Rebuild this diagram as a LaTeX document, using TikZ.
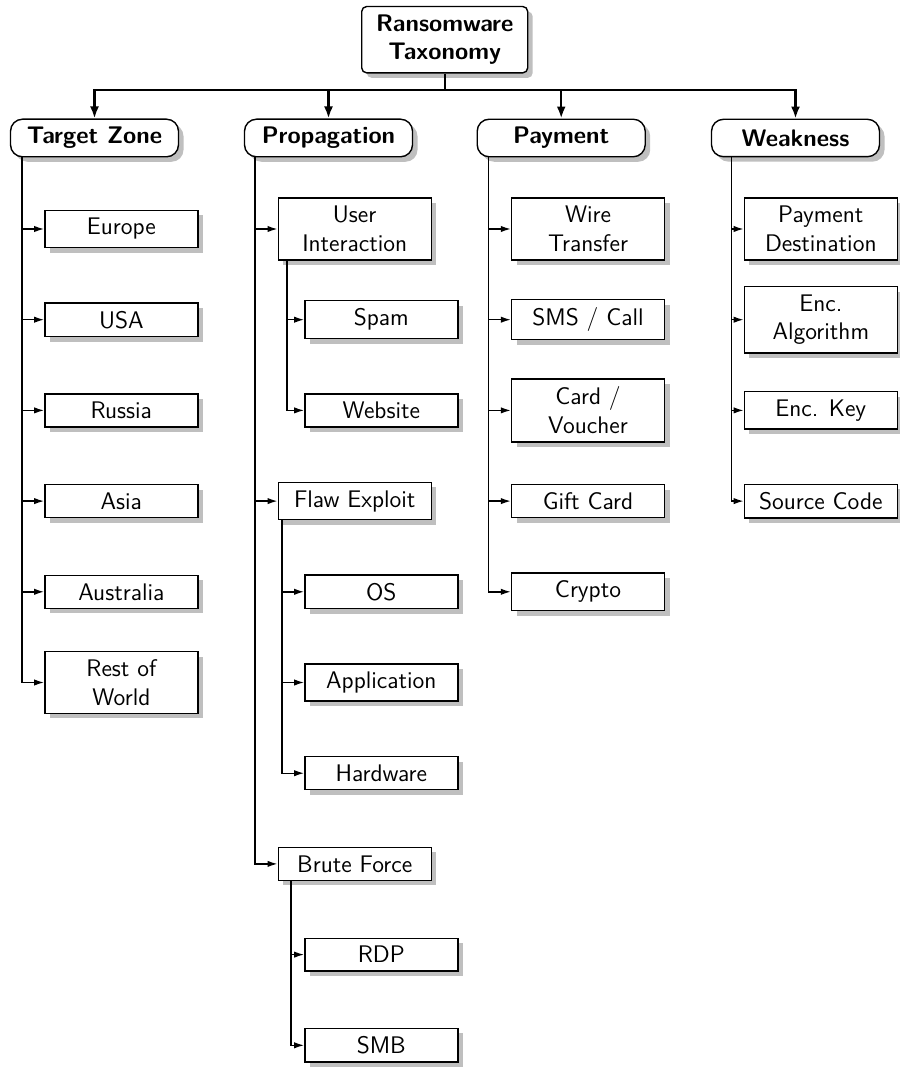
\documentclass[tikz,border=0pt]{standalone}
\usepackage{fontspec}
\usetikzlibrary{shadows,arrows.meta,calc}
\begin{document}
\begin{tikzpicture}[x=0.5pt,y=-0.5pt,
  shad/.style={drop shadow={shadow xshift=2.5pt,shadow yshift=-2.5pt,fill=black!25,opacity=1}},
  rootbox/.style={draw,line width=0.7pt,fill=white,rounded corners=2.5pt,shad,align=center,
    font=\fontsize{12}{14.4}\selectfont\sffamily\bfseries,minimum width=83pt,minimum height=33pt,inner sep=4pt},
  catbox/.style={draw,line width=0.7pt,fill=white,rounded corners=6pt,shad,
    font=\fontsize{12}{14.4}\selectfont\sffamily\bfseries,minimum width=84pt,minimum height=18.7pt,inner sep=4pt},
  leafbox/.style={draw,line width=0.7pt,fill=white,shad,align=center,
    font=\fontsize{12}{14.4}\selectfont\sffamily,minimum width=76.5pt,inner sep=4pt},
  toplink/.style={line width=1.2pt},
  toparr/.style={line width=1.2pt,-{Latex[length=6pt,width=4.5pt]}},
  leafarr/.style={line width=0.7pt,-{Latex[length=5pt,width=3.2pt]}}
]
\useasboundingbox (0,0) rectangle (899,1068);
% root and categories
\node[rootbox] (root) at (444.7,39.7) {Ransomware\\Taxonomy};
\node[catbox] (tz) at (94.5,138) {Target Zone};
\node[catbox] (prop) at (328.5,138) {Propagation};
\node[catbox] (pay) at (561.2,138) {Payment};
\node[catbox] (weak) at (795.5,138) {Weakness};
\coordinate (bus) at ([yshift=-8.3pt]root.south);
\draw[toplink] (root.south) -- (bus);
\foreach \c in {tz,prop,pay,weak} \draw[toparr] (bus) -| (\c.north);
% Target Zone
\node[leafbox] (europe) at (121.3,229) {Europe};
\node[leafbox] (usa) at (121.3,319.7) {USA};
\node[leafbox] (russia) at (121.3,410.4) {Russia};
\node[leafbox] (asia) at (121.3,501.1) {Asia};
\node[leafbox] (australia) at (121.3,591.8) {Australia};
\node[leafbox] (rest) at (121.3,682.5) {Rest of\\World};
\coordinate (tzt) at ([xshift=6.1pt]tz.south west);
\foreach \c in {europe,usa,russia,asia,australia,rest} \draw[leafarr] (tzt) |- (\c.west);
% Propagation
\node[leafbox] (ui) at (354.7,229) {User\\Interaction};
\node[leafbox] (spam) at (381.3,319.7) {Spam};
\node[leafbox] (web) at (381.3,410.4) {Website};
\node[leafbox] (flaw) at (354.7,501.1) {Flaw Exploit};
\node[leafbox] (os) at (381.3,591.8) {OS};
\node[leafbox] (app) at (381.3,682.5) {Application};
\node[leafbox] (hw) at (381.3,773.2) {Hardware};
\node[leafbox] (brute) at (354.7,863.9) {Brute Force};
\node[leafbox] (rdp) at (381.3,954.6) {RDP};
\node[leafbox] (smb) at (381.3,1045.3) {SMB};
\coordinate (propt) at ([xshift=5.6pt]prop.south west);
\foreach \c in {ui,flaw,brute} \draw[leafarr] (propt) |- (\c.west);
\coordinate (uit) at ([xshift=4.75pt]ui.south west);
\foreach \c in {spam,web} \draw[leafarr] (uit) |- (\c.west);
\coordinate (flawt) at ([xshift=2.25pt]flaw.south west);
\foreach \c in {os,app,hw} \draw[leafarr] (flawt) |- (\c.west);
\coordinate (brutet) at ([xshift=6.75pt]brute.south west);
\foreach \c in {rdp,smb} \draw[leafarr] (brutet) |- (\c.west);
% Payment
\node[leafbox] (wire) at (588,229) {Wire\\Transfer};
\node[leafbox] (sms) at (588,319.7) {SMS / Call};
\node[leafbox] (card) at (588,410.4) {Card /\\Voucher};
\node[leafbox] (gift) at (588,501.1) {Gift Card};
\node[leafbox] (crypto) at (588,591.8) {Crypto};
\coordinate (payt) at ([xshift=6.05pt]pay.south west);
\foreach \c in {wire,sms,card,gift,crypto} \draw[leafarr] (payt) |- (\c.west);
% Weakness
\node[leafbox] (dest) at (820.8,229) {Payment\\Destination};
\node[leafbox] (alg) at (820.8,319.7) {Enc.\\Algorithm};
\node[leafbox] (key) at (820.8,410.4) {Enc. Key};
\node[leafbox] (src) at (820.8,501.1) {Source Code};
\coordinate (weakt) at ([xshift=10.4pt]weak.south west);
\foreach \c in {dest,alg,key,src} \draw[leafarr] (weakt) |- (\c.west);
\end{tikzpicture}
\end{document}
